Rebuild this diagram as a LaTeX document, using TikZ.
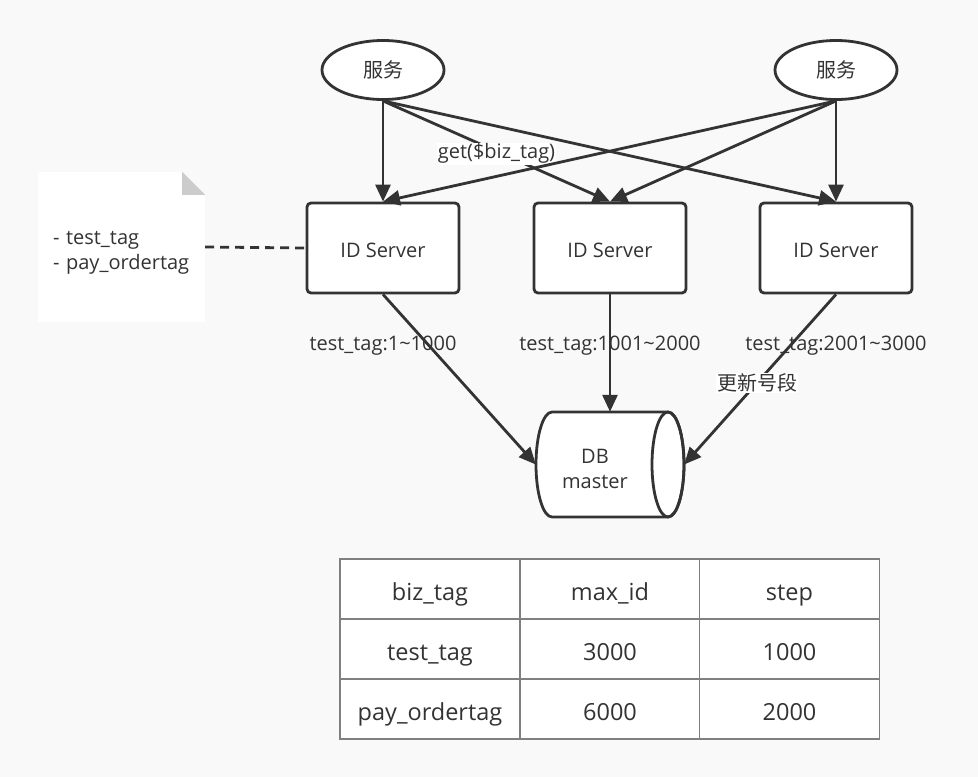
\documentclass[tikz,border=0pt]{standalone}
\usepackage{fontspec}
\setmainfont{Open Sans}
\newfontfamily\cjk{Noto Sans CJK SC}
\usetikzlibrary{shapes.geometric,arrows.meta}
\definecolor{bg}{RGB}{249,249,249}
\definecolor{ink}{RGB}{51,51,51}
\definecolor{grid}{RGB}{128,128,128}
\definecolor{fold}{RGB}{204,204,204}
\tikzset{
  txt/.style={text=ink, font=\fontsize{20}{24}\selectfont},
  svc/.style={ellipse, draw=ink, line width=2.8pt, fill=white, minimum width=122pt, minimum height=59pt, inner sep=0pt, txt},
  server/.style={rectangle, rounded corners=4pt, draw=ink, line width=2.8pt, fill=white, minimum width=152pt, minimum height=90pt, inner sep=0pt, txt, text height=20pt, text depth=1.6pt},
  arr/.style={draw=ink, line width=2.8pt, -{Triangle[length=17pt,width=15pt]}},
  lbl/.style={txt, inner sep=1pt},
  cell/.style={rectangle, draw=grid, line width=1.4pt, fill=white, minimum width=180pt, minimum height=60pt, inner sep=0pt, txt, font=\fontsize{23.5}{28}\selectfont, text height=25pt, text depth=3pt},
}
\begin{document}
\begin{tikzpicture}[x=1pt,y=-1pt]
\fill[bg] (0,0) rectangle (978,777);
\useasboundingbox (0,0) rectangle (978,777);

% note
\node[minimum width=167pt, minimum height=150pt, inner sep=0pt] (note) at (121.5,247) {};
\fill[white] (note.north west) -- ([xshift=-23pt]note.north east) -- ([yshift=-23pt]note.north east) -- (note.south east) -- (note.south west) -- cycle;
\fill[fold] ([xshift=-23pt]note.north east) -- ([yshift=-23pt]note.north east) -- ([xshift=-23pt,yshift=-23pt]note.north east) -- cycle;
\node[txt, inner xsep=15pt, inner ysep=0pt, text width=137pt, align=left, font=\fontsize{20}{25}\selectfont] (notetext) at (121.5,253) {- test\_tag\\- pay\_ordertag};

% services
\node[svc] (s1) at (383,70) {\cjk 服务};
\node[svc] (s2) at (836,70) {\cjk 服务};

% servers
\node[server] (b1) at (383,248) {ID Server};
\node[server] (b2) at (610,248) {ID Server};
\node[server] (b3) at (836,248) {ID Server};

% DB cylinder
\node[minimum width=148pt, minimum height=105pt, inner sep=0pt] (db) at (610,464.5) {};
\filldraw[draw=ink, fill=white, line width=2.8pt]
  (668,412) -- (552,412) arc[start angle=270, end angle=90, x radius=16, y radius=52.5]
  -- (668,517) arc[start angle=90, end angle=-90, x radius=16, y radius=52.5] -- cycle;
\draw[draw=ink, line width=2.8pt] (668,464.5) ellipse[x radius=16, y radius=52.5];
\node[txt, align=center, font=\fontsize{20}{25}\selectfont] (dbt) at (595,469) {DB\\master};

% connectors
\draw[arr] (s1.south) -- (b1.north);
\draw[arr] (s1.south) -- (b3.north);
\draw[arr] (s1.south) -- node[lbl, fill=white, pos=0.5, yshift=-2.5pt] (glbl) {get(\$biz\_tag)} (b2.north);
\draw[arr] (s2.south) -- (b1.north);
\draw[arr] (s2.south) -- (b2.north);
\draw[arr] (s2.south) -- (b3.north);

\draw[draw=ink, line width=2.8pt, dash pattern=on 9pt off 6pt] (note.east) -- (b1.west);

\draw[arr] (b1.south) -- (db.west);
\draw[arr] (b2.south) -- (db.north);
\draw[arr] (b3.south) -- node[lbl, fill=white, pos=0.52] (upd) {\cjk 更新号段} (db.east);

\node[lbl] (t1) at (383,346) {test\_tag:1\textasciitilde1000};
\node[lbl] (t2) at (610,346) {test\_tag:1001\textasciitilde2000};
\node[lbl] (t3) at (836,346) {test\_tag:2001\textasciitilde3000};

% table
\node[cell] (c11) at (430,589) {biz\_tag};
\node[cell] (c12) at (610,589) {max\_id};
\node[cell] (c13) at (789.5,589) {step};
\node[cell] (c21) at (430,649) {test\_tag};
\node[cell] (c22) at (610,649) {3000};
\node[cell] (c23) at (789.5,649) {1000};
\node[cell] (c31) at (430,709) {pay\_ordertag};
\node[cell] (c32) at (610,709) {6000};
\node[cell] (c33) at (789.5,709) {2000};
\end{tikzpicture}
\end{document}
